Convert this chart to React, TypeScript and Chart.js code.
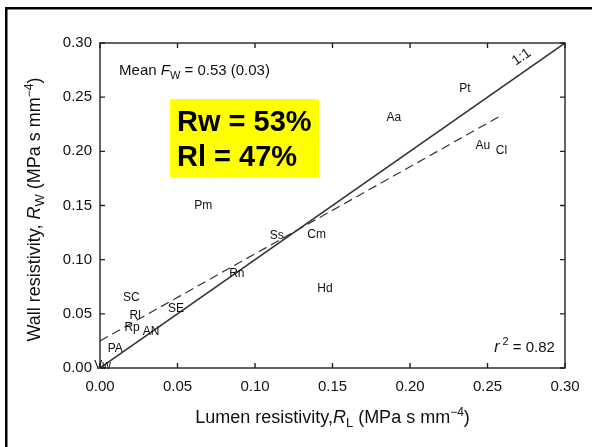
import { useEffect, useRef } from "react";
import { Chart, registerables } from "chart.js";

Chart.register(...registerables);

const FONT = '"Liberation Sans", Arial, Helvetica, sans-serif';

// Axis ticks
const xTicks = [0, 0.05, 0.1, 0.15, 0.2, 0.25, 0.3];
const yTicks = [0, 0.05, 0.1, 0.15, 0.2, 0.25, 0.3];

// Species data (labels drawn at point positions)
const speciesLabels = ["Pt", "Aa", "Au", "Cl", "Pm", "Ss", "Cm", "Rn", "Hd", "SC", "SE", "Rl", "Rp", "AN", "PA", "Vw"];
const lumenResistivity = [0.2354, 0.1895, 0.247, 0.259, 0.0666, 0.1141, 0.1398, 0.0883, 0.1451, 0.0202, 0.049, 0.0227, 0.0207, 0.0329, 0.0098, 0.0017];
const wallResistivity = [0.258, 0.231, 0.2055, 0.201, 0.1497, 0.122, 0.123, 0.0874, 0.073, 0.0647, 0.0546, 0.0485, 0.0371, 0.0337, 0.0178, 0.0025];

// Lines
const oneToOneX = [0, 0.3];
const oneToOneY = [0, 0.3];
const fitX = [0, 0.26];
const fitY = [0.025, 0.234];

// Annotation anchors (data coords)
const meanAnchor = [0.0123, 0.2705];
const r2Anchor = [0.2935, 0.0148];
const oneLabelAnchor = [0.272, 0.287];
const boxCorners = [0.0452, 0.2483, 0.1413, 0.1763];
const boxLines = ["Rw = 53%", "Rl = 47%"];

type Run = { t: string; size: number; style?: string; dy?: number };

function drawRich(ctx: CanvasRenderingContext2D, runs: Run[], x: number, y: number, align: "left" | "center" | "right") {
  let total = 0;
  const widths = runs.map((r) => {
    ctx.font = `${r.style || "normal"} ${r.size}px ${FONT}`;
    const w = ctx.measureText(r.t).width;
    total += w;
    return w;
  });
  let cx = align === "left" ? x : align === "center" ? x - total / 2 : x - total;
  ctx.textAlign = "left";
  ctx.textBaseline = "alphabetic";
  runs.forEach((r, i) => {
    ctx.font = `${r.style || "normal"} ${r.size}px ${FONT}`;
    ctx.fillText(r.t, cx, y + (r.dy || 0));
    cx += widths[i];
  });
}

const decorPlugin = {
  id: "decor",
  beforeDraw(chart: any) {
    const ctx = chart.ctx as CanvasRenderingContext2D;
    ctx.save();
    ctx.fillStyle = "#ffffff";
    ctx.fillRect(0, 0, chart.width, chart.height);
    ctx.fillStyle = "#000000";
    ctx.fillRect(5, 7, 2.5, chart.height);
    ctx.fillRect(5, 7, chart.width, 2.5);
    ctx.restore();
  },
  beforeDatasetsDraw(chart: any) {
    const ctx = chart.ctx as CanvasRenderingContext2D;
    const xs = chart.scales.x;
    const ys = chart.scales.y;
    ctx.save();
    const bx1 = xs.getPixelForValue(boxCorners[0]);
    const by1 = ys.getPixelForValue(boxCorners[1]);
    const bx2 = xs.getPixelForValue(boxCorners[2]);
    const by2 = ys.getPixelForValue(boxCorners[3]);
    ctx.fillStyle = "#ffff00";
    ctx.fillRect(bx1, by1, bx2 - bx1, by2 - by1);
    ctx.fillStyle = "#000000";
    ctx.font = `bold 29px ${FONT}`;
    ctx.textAlign = "left";
    ctx.textBaseline = "alphabetic";
    ctx.fillText(boxLines[0], bx1 + 7, by1 + 32);
    ctx.fillText(boxLines[1], bx1 + 7, by1 + 67);
    ctx.restore();
  },
  afterDraw(chart: any) {
    const ctx = chart.ctx as CanvasRenderingContext2D;
    const xs = chart.scales.x;
    const ys = chart.scales.y;
    const a = chart.chartArea;
    ctx.save();
    // frame
    ctx.strokeStyle = "#222";
    ctx.lineWidth = 1.4;
    ctx.strokeRect(a.left, a.top, a.right - a.left, a.bottom - a.top);
    // inward ticks
    ctx.beginPath();
    xTicks.forEach((v) => {
      const px = xs.getPixelForValue(v);
      ctx.moveTo(px, a.bottom);
      ctx.lineTo(px, a.bottom - 5);
      ctx.moveTo(px, a.top);
      ctx.lineTo(px, a.top + 5);
    });
    yTicks.forEach((v) => {
      const py = ys.getPixelForValue(v);
      ctx.moveTo(a.left, py);
      ctx.lineTo(a.left + 5, py);
      ctx.moveTo(a.right, py);
      ctx.lineTo(a.right - 5, py);
    });
    ctx.stroke();

    ctx.fillStyle = "#111";
    // species labels
    ctx.font = `12px ${FONT}`;
    ctx.textAlign = "center";
    ctx.textBaseline = "middle";
    speciesLabels.forEach((s, i) => {
      ctx.fillText(s, xs.getPixelForValue(lumenResistivity[i]), ys.getPixelForValue(wallResistivity[i]));
    });

    // Mean text
    drawRich(
      ctx,
      [
        { t: "Mean ", size: 15 },
        { t: "F", size: 15, style: "italic" },
        { t: "W", size: 11, dy: 4 },
        { t: " = 0.53 (0.03)", size: 15 },
      ],
      xs.getPixelForValue(meanAnchor[0]),
      ys.getPixelForValue(meanAnchor[1]),
      "left"
    );
    // r^2
    drawRich(
      ctx,
      [
        { t: "r", size: 16, style: "italic" },
        { t: " 2", size: 11, dy: -7 },
        { t: " = 0.82", size: 15 },
      ],
      xs.getPixelForValue(r2Anchor[0]),
      ys.getPixelForValue(r2Anchor[1]),
      "right"
    );
    // 1:1 label
    const ox = xs.getPixelForValue(oneLabelAnchor[0]);
    const oy = ys.getPixelForValue(oneLabelAnchor[1]);
    const ang = Math.atan2(
      ys.getPixelForValue(0.3) - ys.getPixelForValue(0),
      xs.getPixelForValue(0.3) - xs.getPixelForValue(0)
    );
    ctx.save();
    ctx.translate(ox, oy);
    ctx.rotate(ang);
    ctx.font = `14px ${FONT}`;
    ctx.textAlign = "center";
    ctx.textBaseline = "middle";
    ctx.fillText("1:1", 0, 0);
    ctx.restore();

    // Axis titles
    drawRich(
      ctx,
      [
        { t: "Lumen resistivity,", size: 18 },
        { t: "R", size: 18, style: "italic" },
        { t: "L", size: 13, dy: 4 },
        { t: " (MPa s mm", size: 18 },
        { t: "\u22124", size: 12, dy: -7 },
        { t: ")", size: 18 },
      ],
      (a.left + a.right) / 2,
      423,
      "center"
    );
    ctx.save();
    ctx.translate(40, (a.top + a.bottom) / 2 + 4);
    ctx.rotate(-Math.PI / 2);
    drawRich(
      ctx,
      [
        { t: "Wall resistivity, ", size: 18 },
        { t: "R", size: 18, style: "italic" },
        { t: "W", size: 13, dy: 4 },
        { t: " (MPa s mm", size: 18 },
        { t: "\u22124", size: 12, dy: -7 },
        { t: ")", size: 18 },
      ],
      0,
      0,
      "center"
    );
    ctx.restore();
    ctx.restore();
  },
};

export default function App() {
  const ref = useRef<HTMLCanvasElement | null>(null);
  useEffect(() => {
    if (!ref.current) return;
    const chart = new Chart(ref.current, {
      type: "scatter",
      data: {
        datasets: [
          {
            type: "line",
            data: oneToOneX.map((x, i) => ({ x, y: oneToOneY[i] })),
            borderColor: "#333",
            borderWidth: 1.5,
            pointRadius: 0,
            fill: false,
          },
          {
            type: "line",
            data: fitX.map((x, i) => ({ x, y: fitY[i] })),
            borderColor: "#333",
            borderWidth: 1.2,
            borderDash: [9, 5],
            pointRadius: 0,
            fill: false,
          },
          {
            data: lumenResistivity.map((x, i) => ({ x, y: wallResistivity[i] })),
            pointRadius: 0,
            backgroundColor: "transparent",
            borderColor: "transparent",
          },
        ],
      } as any,
      options: {
        responsive: false,
        animation: false,
        devicePixelRatio: 1,
        layout: { padding: { top: 43, right: 27, left: 0, bottom: 0 } },
        plugins: { legend: { display: false }, tooltip: { enabled: false } },
        scales: {
          x: {
            type: "linear",
            min: 0,
            max: 0.3,
            grid: { display: false, drawTicks: false },
            border: { display: false },
            afterFit: (s: any) => {
              s.height = 79;
            },
            afterBuildTicks: (s: any) => {
              s.ticks = xTicks.map((v) => ({ value: v }));
            },
            ticks: {
              padding: 10,
              color: "#111",
              font: { family: FONT, size: 15 },
              callback: (v: any) => Number(v).toFixed(2),
            },
          },
          y: {
            type: "linear",
            min: 0,
            max: 0.3,
            grid: { display: false, drawTicks: false },
            border: { display: false },
            afterFit: (s: any) => {
              s.width = 100;
            },
            afterBuildTicks: (s: any) => {
              s.ticks = yTicks.map((v) => ({ value: v }));
            },
            ticks: {
              padding: 8,
              color: "#111",
              font: { family: FONT, size: 15 },
              callback: (v: any) => Number(v).toFixed(2),
            },
          },
        },
      },
      plugins: [decorPlugin],
    } as any);
    return () => chart.destroy();
  }, []);
  return (
    <div style={{ position: "fixed", left: 0, top: 0, width: 592, height: 447, background: "#fff" }}>
      <canvas ref={ref} width={592} height={447} style={{ width: 592, height: 447, display: "block" }} />
    </div>
  );
}
